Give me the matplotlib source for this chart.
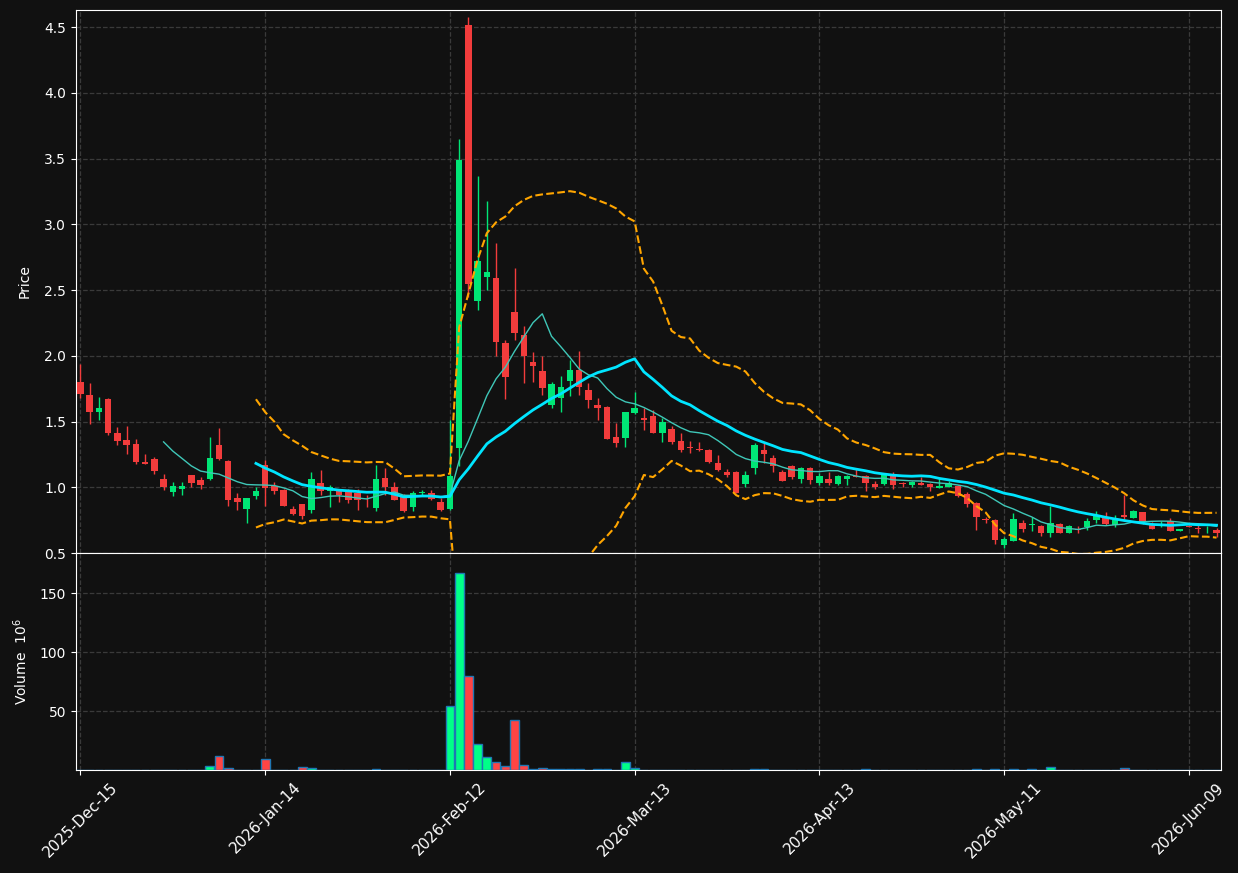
import numpy as np
import pandas as pd
import matplotlib
matplotlib.use('Agg')
import matplotlib.pyplot as plt

# daily OHLC (one entry per trading day)
opens = [1.80, 1.70, 1.575, 1.67, 1.41, 1.36, 1.33, 1.19, 1.215, 1.06,
         0.965, 0.987, 1.09, 1.058, 1.063, 1.32, 1.20, 0.918, 0.835, 0.934,
         1.169, 1.009, 0.979, 0.834, 0.872, 0.827, 1.032, 0.973, 0.973, 0.965,
         0.96, 0.905, 0.84, 1.07, 1.00, 0.93, 0.85, 0.955, 0.96, 0.89,
         0.835, 1.30, 4.52, 2.42, 2.60, 2.59, 2.10, 2.33, 2.16, 1.95,
         1.885, 1.625, 1.68, 1.81, 1.89, 1.74, 1.625, 1.61, 1.38, 1.375,
         1.565, 1.53, 1.54, 1.41, 1.44, 1.35, 1.305, 1.29, 1.28, 1.185,
         1.12, 1.115, 1.025, 1.15, 1.285, 1.225, 1.12, 1.16, 1.065, 1.15,
         1.03, 1.065, 1.025, 1.065, 1.085, 1.085, 1.025, 1.025, 1.09, 1.027,
         1.017, 1.035, 1.025, 0.997, 1.005, 1.01, 0.95, 0.88, 0.757, 0.75,
         0.56, 0.595, 0.73, 0.715, 0.705, 0.65, 0.72, 0.655, 0.682, 0.695,
         0.75, 0.77, 0.71, 0.79, 0.77, 0.81, 0.72, 0.715, 0.745, 0.67,
         0.705, 0.69, 0.673, 0.675]
highs = [1.94, 1.79, 1.69, 1.68, 1.46, 1.47, 1.37, 1.25, 1.23, 1.10,
         1.04, 1.04, 1.093, 1.075, 1.38, 1.45, 1.21, 0.96, 0.92, 1.004,
         1.207, 1.04, 0.99, 0.86, 0.875, 1.118, 1.128, 1.02, 0.99, 0.99,
         0.99, 0.94, 1.17, 1.15, 1.04, 0.95, 0.97, 0.98, 0.98, 0.92,
         1.51, 3.65, 4.58, 3.365, 3.18, 2.86, 2.12, 2.67, 2.23, 2.03,
         2.00, 1.80, 1.85, 1.97, 2.035, 1.79, 1.68, 1.62, 1.49, 1.575,
         1.725, 1.60, 1.59, 1.525, 1.465, 1.41, 1.35, 1.345, 1.295, 1.245,
         1.136, 1.125, 1.126, 1.334, 1.334, 1.245, 1.135, 1.17, 1.151, 1.155,
         1.106, 1.113, 1.09, 1.09, 1.136, 1.09, 1.05, 1.095, 1.118, 1.042,
         1.05, 1.08, 1.03, 1.068, 1.048, 1.017, 0.966, 0.885, 0.776, 0.76,
         0.625, 0.802, 0.751, 0.776, 0.71, 0.86, 0.725, 0.71, 0.706, 0.77,
         0.82, 0.81, 0.789, 0.941, 0.825, 0.815, 0.738, 0.744, 0.77, 0.685,
         0.71, 0.726, 0.706, 0.688]
lows = [1.68, 1.48, 1.51, 1.40, 1.32, 1.25, 1.18, 1.175, 1.10, 0.98,
        0.935, 0.945, 1.005, 0.99, 1.055, 1.21, 0.86, 0.83, 0.727, 0.908,
        0.86, 0.95, 0.855, 0.79, 0.76, 0.804, 0.94, 0.85, 0.89, 0.88,
        0.83, 0.85, 0.82, 0.94, 0.90, 0.81, 0.82, 0.94, 0.90, 0.82,
        0.83, 1.16, 2.45, 2.35, 2.50, 2.00, 1.67, 2.12, 1.79, 1.80,
        1.70, 1.60, 1.575, 1.695, 1.70, 1.605, 1.51, 1.365, 1.31, 1.31,
        1.56, 1.435, 1.41, 1.345, 1.33, 1.27, 1.26, 1.275, 1.187, 1.125,
        1.08, 0.955, 1.005, 1.098, 1.182, 1.118, 1.045, 1.06, 1.035, 1.025,
        1.017, 1.017, 1.02, 1.015, 1.078, 0.975, 0.99, 1.017, 0.99, 1.004,
        1.004, 1.017, 0.974, 0.995, 1.0, 0.93, 0.848, 0.675, 0.731, 0.57,
        0.535, 0.59, 0.663, 0.67, 0.63, 0.62, 0.65, 0.65, 0.655, 0.675,
        0.731, 0.715, 0.70, 0.751, 0.765, 0.72, 0.68, 0.70, 0.665, 0.665,
        0.695, 0.65, 0.655, 0.625]
closes = [1.71, 1.57, 1.60, 1.41, 1.35, 1.32, 1.19, 1.18, 1.125, 1.00,
          1.01, 1.01, 1.035, 1.017, 1.22, 1.215, 0.90, 0.888, 0.918, 0.972,
          0.997, 0.971, 0.857, 0.796, 0.783, 1.062, 0.973, 0.999, 0.94, 0.905,
          0.90, 0.90, 1.06, 1.00, 0.90, 0.82, 0.96, 0.965, 0.91, 0.83,
          1.085, 3.49, 2.55, 2.72, 2.64, 2.105, 1.84, 2.175, 2.00, 1.92,
          1.755, 1.785, 1.76, 1.89, 1.765, 1.665, 1.60, 1.37, 1.34, 1.57,
          1.605, 1.51, 1.41, 1.50, 1.345, 1.28, 1.30, 1.285, 1.195, 1.13,
          1.095, 0.96, 1.09, 1.32, 1.25, 1.16, 1.05, 1.08, 1.145, 1.055,
          1.085, 1.03, 1.085, 1.085, 1.08, 1.035, 1.00, 1.09, 1.02, 1.024,
          1.04, 1.02, 1.005, 1.01, 1.03, 0.935, 0.875, 0.775, 0.754, 0.60,
          0.61, 0.76, 0.685, 0.72, 0.655, 0.725, 0.655, 0.705, 0.678, 0.745,
          0.79, 0.72, 0.755, 0.775, 0.82, 0.74, 0.685, 0.72, 0.67, 0.68,
          0.70, 0.685, 0.677, 0.655]
# volume in millions
volumes = [0, 0, 0, 0, 0, 0, 0, 0, 0, 0,
           0, 0, 0, 0, 3.1, 11.6, 2.0, 0.3, 0.3, 0,
           9.6, 0.3, 0.3, 0.3, 2.8, 2.0, 0.3, 0.3, 0, 0,
           0.3, 0, 1.1, 0.3, 0.3, 0, 0.3, 0, 0, 0,
           54, 167, 80, 21.8, 10.7, 6.5, 3.1, 42, 4.5, 1.1,
           2.0, 1.1, 1.1, 1.1, 1.1, 0.3, 1.1, 1.1, 0.3, 6.5,
           2.0, 0.3, 0.3, 0.3, 0.3, 0.3, 0.3, 0, 0.3, 0.3,
           0.3, 0.3, 0.3, 1.1, 1.1, 0.3, 0.3, 0.3, 0.3, 0.3,
           0.3, 0.3, 0.3, 0.3, 0.3, 1.1, 0.3, 0.3, 0.3, 0,
           0, 0, 0.3, 0, 0.3, 0.3, 0.3, 1.1, 0, 1.1,
           0.3, 1.1, 0.3, 1.1, 0.3, 2.8, 0.3, 0, 0, 0.3,
           0.3, 0, 0, 2.0, 0.3, 0.3, 0, 0, 0, 0,
           0.3, 0.3, 0, 0]
tick_pos = [0, 20, 40, 60, 80, 100, 120]
tick_labels = ['2025-Dec-15', '2026-Jan-14', '2026-Feb-12', '2026-Mar-13',
               '2026-Apr-13', '2026-May-11', '2026-Jun-09']

bg = '#111111'
up_c, down_c = '#00e676', '#f23c3c'
vol_up, vol_down = '#00ff88', '#ff4444'

x = np.arange(len(closes))
o = np.array(opens); h = np.array(highs); l = np.array(lows); c = np.array(closes)
up = c >= o

# moving averages and bollinger bands from the closes
cs = pd.Series(closes)
ma10 = cs.rolling(10).mean()
ma20 = cs.rolling(20).mean()
sd20 = cs.rolling(20).std()
upper = ma20 + 2 * sd20
lower = ma20 - 2 * sd20

fig = plt.figure(figsize=(12.38, 8.73), dpi=100, facecolor=bg)
ax = fig.add_axes([0.0614, 0.3665, 0.925, 0.622], facecolor=bg)
axv = fig.add_axes([0.0614, 0.118, 0.925, 0.2486], facecolor=bg, sharex=ax)

cols = np.where(up, up_c, down_c)
ax.vlines(x, l, h, colors=cols, linewidth=1, zorder=2)
body = np.maximum(np.abs(c - o), 0.006)
ax.bar(x, body, bottom=np.minimum(o, c), width=0.7, color=cols, linewidth=0, zorder=3)

ax.plot(x, ma10, color='#3fc7b8', linewidth=1, zorder=4)
ax.plot(x, ma20, color='#00e5ff', linewidth=2, zorder=4)
ax.plot(x, upper, color='#ffa500', linestyle='--', linewidth=1.5, zorder=5)
ax.plot(x, lower, color='#ffa500', linestyle='--', linewidth=1.5, zorder=5)

vcols = np.where(up, vol_up, vol_down)
axv.bar(x, volumes, width=0.95, color=vcols, edgecolor='#1f77b4', linewidth=1, zorder=3)

ax.set_xlim(-0.48, len(closes) - 0.5)
ax.set_ylim(0.5, 4.63)
ax.set_yticks(np.arange(0.5, 4.51, 0.5))
axv.set_ylim(0, 184)
axv.set_yticks([50, 100, 150])
axv.set_xticks(tick_pos)
axv.set_xticklabels(tick_labels, rotation=45, ha='center')
ax.tick_params(axis='x', labelbottom=False, length=0)

for a in (ax, axv):
    a.grid(True, color='#3a3a3a', linestyle='--', linewidth=0.9)
    a.set_axisbelow(True)
    a.tick_params(colors='white', labelsize=10)
    for s in a.spines.values():
        s.set_color('white')
axv.tick_params(axis='x', labelsize=11)

ax.set_ylabel('Price', color='white', fontsize=10, labelpad=9)
axv.set_ylabel('Volume  $10^{6}$', color='white', fontsize=10, labelpad=7)

fig.savefig('out.png', dpi=100, facecolor=bg)
